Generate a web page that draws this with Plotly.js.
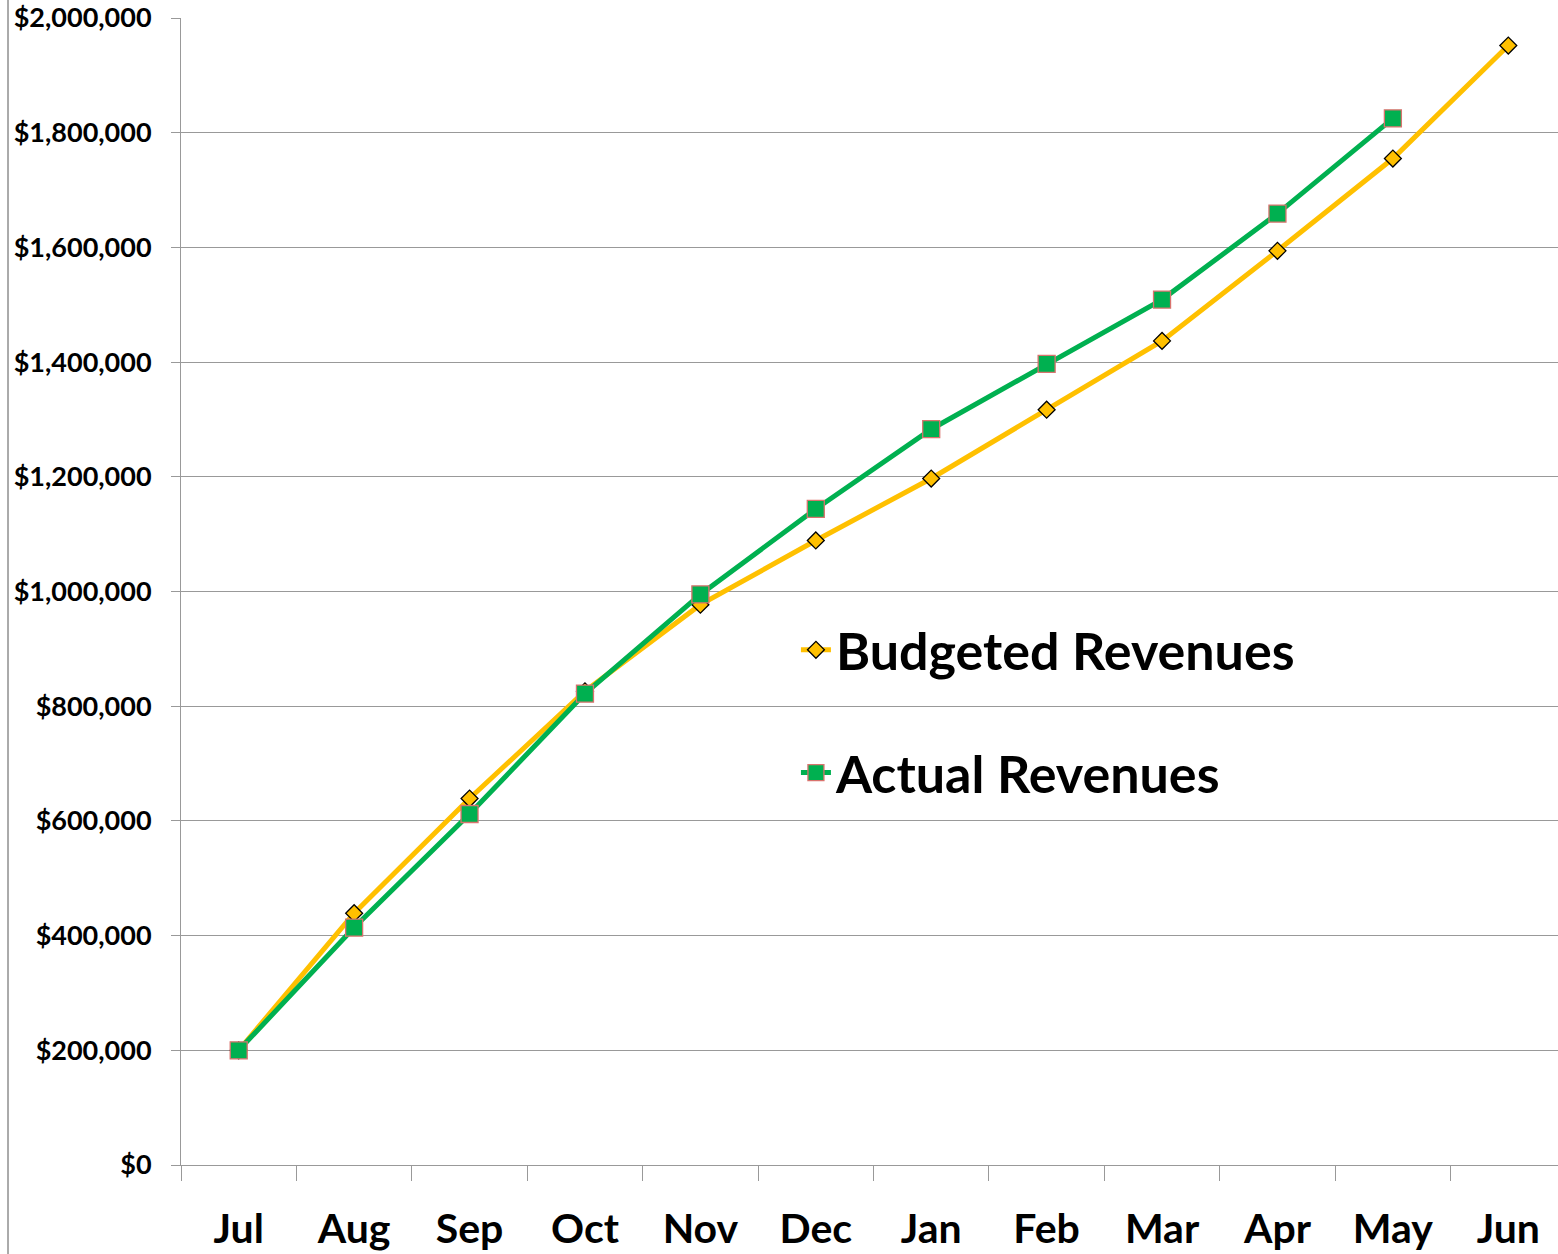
<!DOCTYPE html>
<html>
<head>
<meta charset="utf-8">
<script src="https://cdn.plot.ly/plotly-3.0.1.min.js"></script>
<style>
  html, body { margin: 0; padding: 0; overflow: hidden; background: #fff; }
  #chart { width: 1566px; height: 1254px; }
</style>
</head>
<body>
<div id="chart"></div>
<script>
document.addEventListener("DOMContentLoaded", function() {
  // months of the fiscal year
  const months = ["Jul", "Aug", "Sep", "Oct", "Nov", "Dec", "Jan", "Feb", "Mar", "Apr", "May", "Jun"];
  // cumulative revenues
  const budgeted = [200000, 439000, 639000, 826000, 977000, 1089000, 1197000, 1317000, 1437000, 1594000, 1755000, 1952000];
  const actual = [200000, 414000, 612000, 822000, 995000, 1144000, 1283000, 1397000, 1509000, 1659000, 1825000, null];

  const gold = "#FFC000";
  const green = "#00B050";
  const font = "Lato, 'Open Sans', sans-serif";

  const traceBudget = {
    x: months,
    y: budgeted,
    name: "Budgeted Revenues",
    type: "scatter",
    mode: "lines+markers",
    line: { color: gold, width: 5 },
    marker: { symbol: "diamond", size: 13, color: gold, line: { color: "#000", width: 1.3 } },
    legend: "legend"
  };
  const traceActual = {
    x: months,
    y: actual,
    name: "Actual Revenues",
    type: "scatter",
    mode: "lines+markers",
    line: { color: green, width: 5 },
    marker: { symbol: "square", size: 17, color: green, line: { color: "#D9736E", width: 1.3 } },
    legend: "legend2"
  };

  const legendStyle = {
    x: 0.444,
    xanchor: "left",
    yanchor: "middle",
    bgcolor: "rgba(0,0,0,0)",
    font: { family: font, size: 52, color: "#000", weight: "bold" }
  };

  Plotly.newPlot("chart", [traceBudget, traceActual], {
    width: 1566,
    height: 1254,
    margin: { l: 181, r: 0, t: 18, b: 89 },
    paper_bgcolor: "#fff",
    plot_bgcolor: "#fff",
    showlegend: true,
    legend: Object.assign({}, legendStyle, { y: 0.449 }),
    legend2: Object.assign({}, legendStyle, { y: 0.342 }),
    xaxis: {
      type: "category",
      range: [-0.5, 11.5],
      tickson: "boundaries",
      ticks: "outside",
      ticklen: 15,
      tickcolor: "#999",
      showline: true,
      linecolor: "#999",
      showgrid: false,
      ticklabelstandoff: 28,
      tickfont: { family: font, size: 41, color: "#000", weight: "bold" }
    },
    yaxis: {
      range: [0, 2000000],
      dtick: 200000,
      tickprefix: "$",
      tickformat: ",d",
      ticks: "outside",
      ticklen: 9,
      tickcolor: "#999",
      showline: true,
      linecolor: "#999",
      gridcolor: "#999",
      gridwidth: 1,
      zeroline: false,
      ticklabelstandoff: 14,
      tickfont: { family: font, size: 27, color: "#000", weight: "bold" }
    },
    shapes: [
      { type: "line", xref: "paper", yref: "paper", x0: -0.1249, x1: -0.1249, y0: -0.1, y1: 1.1,
        line: { color: "#aaa", width: 2 } }
    ]
  }, { displayModeBar: false, staticPlot: true });
});
</script>
</body>
</html>
